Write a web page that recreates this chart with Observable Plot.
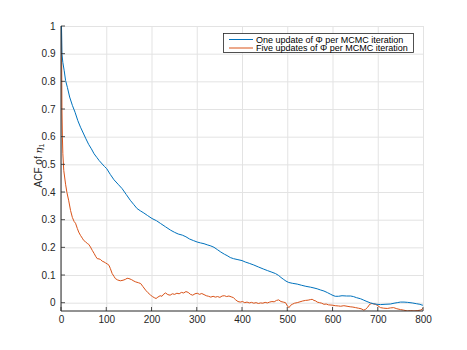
<!DOCTYPE html>
<html><head><meta charset="utf-8">
<script src="https://cdn.jsdelivr.net/npm/d3@7"></script>
<script src="https://cdn.jsdelivr.net/npm/@observablehq/plot@0.6"></script>
<style>
html,body{margin:0;padding:0;background:#fff;}
svg{font-family:"Liberation Sans",Arial,Helvetica,sans-serif;}
</style></head>
<body><div id="chart"></div>
<script>
const seriesNames = ["One update of \u03A6 per MCMC iteration", "Five updates of \u03A6 per MCMC iteration"];
const seriesColors = ["#0072BD", "#D95319"];
const xTicks = [0, 100, 200, 300, 400, 500, 600, 700, 800];
const yTicks = [0, 0.1, 0.2, 0.3, 0.4, 0.5, 0.6, 0.7, 0.8, 0.9, 1];
const yTickLabels = ["0", "0.1", "0.2", "0.3", "0.4", "0.5", "0.6", "0.7", "0.8", "0.9", "1"];

const blueLag = [0,1,3,6,9,13,18,24,30,36,42,48,54,60,66,72,78,83,90,95,100,108,116,125,134,143,152,160,167,175,182,190,200,210,219,230,241,250,258,267,275,283,292,300,307,315,322,330,337,345,352,360,366,373,380,388,399,406,415,425,435,447,455,465,473,480,485,490,496,502,510,521,530,540,550,558,565,572,580,588,595,600,605,612,620,630,639,645,652,661,668,675,683,690,697,705,715,727,735,742,749,757,765,775,785,792,797,800];
const blueAcf = [1.0,0.90,0.87,0.84,0.805,0.78,0.745,0.715,0.69,0.66,0.636,0.615,0.594,0.574,0.558,0.54,0.527,0.516,0.503,0.494,0.486,0.465,0.446,0.43,0.414,0.393,0.372,0.356,0.342,0.333,0.326,0.317,0.306,0.298,0.288,0.276,0.264,0.256,0.25,0.246,0.24,0.232,0.226,0.221,0.218,0.215,0.211,0.207,0.202,0.193,0.185,0.177,0.172,0.165,0.161,0.158,0.154,0.149,0.144,0.138,0.131,0.123,0.118,0.112,0.107,0.1,0.093,0.087,0.08,0.075,0.072,0.069,0.065,0.061,0.058,0.055,0.052,0.048,0.044,0.038,0.032,0.028,0.025,0.025,0.027,0.026,0.026,0.024,0.02,0.016,0.011,0.006,0.001,-0.002,-0.004,-0.005,-0.004,-0.003,0.0,0.002,0.004,0.004,0.003,0.001,-0.002,-0.004,-0.007,-0.007];

const orangeLag = [0,1,2,3,5,9,12,16,20,24,28,31,35,38,42,46,49,53,57,60,64,68,72,76,79,83,86,90,94,97,101,105,108,112,116,119,124,130,136,141,145,149,155,160,164,170,175,180,186,191,197,201,205,209,213,218,222,226,230,235,240,245,250,255,260,265,270,275,280,285,290,295,300,305,310,315,320,325,330,335,340,345,350,355,360,365,370,375,380,385,390,395,400,405,410,415,420,425,430,435,440,445,450,455,460,465,470,475,480,485,490,495,500,503,506,510,515,521,527,533,539,545,550,554,558,562,565,570,575,580,585,590,598,605,612,617,624,631,638,644,650,656,662,668,672,677,681,686,690,694,699,705,712,720,727,734,741,749,756,764,771,779,786,793,797,800];
const orangeAcf = [1.0,0.70,0.60,0.54,0.48,0.43,0.40,0.37,0.335,0.31,0.295,0.289,0.27,0.257,0.245,0.235,0.227,0.222,0.216,0.213,0.203,0.191,0.18,0.168,0.161,0.16,0.158,0.152,0.149,0.146,0.142,0.137,0.125,0.107,0.097,0.089,0.084,0.081,0.083,0.086,0.09,0.089,0.085,0.08,0.077,0.074,0.071,0.06,0.047,0.038,0.029,0.024,0.02,0.017,0.022,0.027,0.025,0.033,0.037,0.031,0.029,0.034,0.032,0.036,0.034,0.039,0.037,0.042,0.039,0.032,0.029,0.034,0.036,0.032,0.035,0.031,0.027,0.025,0.022,0.025,0.022,0.024,0.021,0.026,0.027,0.024,0.026,0.023,0.02,0.012,0.006,0.004,0.006,0.002,0.004,0.001,0.003,0.0,0.002,-0.001,0.001,0.0,0.003,0.001,0.004,0.006,0.005,0.01,0.012,0.006,0.004,0.002,-0.012,-0.016,-0.008,-0.004,0.0,0.002,0.005,0.008,0.01,0.011,0.013,0.014,0.01,0.008,0.004,0.002,0.0,-0.004,-0.003,-0.006,-0.007,-0.009,-0.01,-0.011,-0.009,-0.011,-0.013,-0.014,-0.016,-0.018,-0.02,-0.025,-0.022,-0.014,-0.004,-0.001,-0.003,-0.004,-0.009,-0.016,-0.018,-0.019,-0.017,-0.016,-0.02,-0.023,-0.025,-0.028,-0.027,-0.028,-0.027,-0.025,-0.022,-0.016];

const blueData = blueLag.map((l, i) => ({lag: l, acf: blueAcf[i]}));
const orangeData = orangeLag.map((l, i) => ({lag: l, acf: orangeAcf[i]}));

const axisColor = "#262626";
const gridColor = "#e3e3e3";

const svg = Plot.plot({
  width: 467,
  height: 350,
  marginLeft: 61,
  marginRight: 44,
  marginTop: 26,
  marginBottom: 39,
  style: {background: "#fff", fontFamily: "'Liberation Sans', Arial, Helvetica, sans-serif", fontSize: "10px", color: axisColor},
  x: {domain: [0, 800]},
  y: {domain: [-0.03, 1]},
  marks: [
    Plot.gridX(xTicks, {stroke: gridColor, strokeOpacity: 1}),
    Plot.gridY(yTicks, {stroke: gridColor, strokeOpacity: 1}),
    Plot.line(orangeData, {x: "lag", y: "acf", stroke: seriesColors[1], strokeWidth: 1, clip: true}),
    Plot.line(blueData, {x: "lag", y: "acf", stroke: seriesColors[0], strokeWidth: 1, clip: true}),
    Plot.axisX({ticks: xTicks, tickSize: 0, tickPadding: 4, label: null, tickFormat: d => String(d), fill: axisColor, fontSize: 10}),
    Plot.axisY({ticks: yTicks, tickSize: 0, tickPadding: 6, label: null, tickFormat: d => yTickLabels[yTicks.indexOf(d)], fill: axisColor, fontSize: 10})
  ]
});

const xs = svg.scale("x"), ys = svg.scale("y");
const g = d3.select(svg).append("g").attr("text-anchor", "start");
const x0 = xs.apply(0), x1 = xs.apply(800);
const yb = ys.apply(-0.03), yt = ys.apply(1);
// inward ticks
xTicks.forEach(t => {
  g.append("line").attr("x1", xs.apply(t)).attr("x2", xs.apply(t)).attr("y1", yb).attr("y2", yb - 4)
    .attr("stroke", axisColor).attr("stroke-width", 0.8);
});
yTicks.forEach(t => {
  g.append("line").attr("x1", x0).attr("x2", x0 + 4).attr("y1", ys.apply(t)).attr("y2", ys.apply(t))
    .attr("stroke", axisColor).attr("stroke-width", 0.8);
});
// axis lines
g.append("line").attr("x1", x0).attr("x2", x0).attr("y1", yt).attr("y2", yb).attr("stroke", axisColor).attr("stroke-width", 1);
g.append("line").attr("x1", x0).attr("x2", x1).attr("y1", yb).attr("y2", yb).attr("stroke", axisColor).attr("stroke-width", 1);

// y label
const yl = g.append("text")
  .attr("transform", `translate(42,${(yt + yb) / 2 - 3}) rotate(-90)`)
  .attr("text-anchor", "middle")
  .attr("font-size", 10)
  .attr("fill", axisColor);
yl.append("tspan").text("ACF of ");
yl.append("tspan").attr("font-style", "italic").attr("font-family", "'DejaVu Serif', serif").text("\u03B7");
yl.append("tspan").attr("font-size", 7).attr("dy", 2).text("1");

// legend
const lg = g.append("g");
lg.append("rect").attr("x", 223.5).attr("y", 33.5).attr("width", 190).attr("height", 19)
  .attr("fill", "#fff").attr("stroke", axisColor).attr("stroke-width", 0.8);
seriesNames.forEach((name, i) => {
  const yy = 39.5 + i * 8.5;
  lg.append("line").attr("x1", 229).attr("x2", 253).attr("y1", yy).attr("y2", yy)
    .attr("stroke", seriesColors[i]).attr("stroke-width", 1);
  lg.append("text").attr("x", 256).attr("y", yy).attr("dy", "0.35em").attr("font-size", 9)
    .attr("text-anchor", "start").attr("fill", "#000").text(name);
});

document.getElementById("chart").appendChild(svg);
</script>
</body></html>
